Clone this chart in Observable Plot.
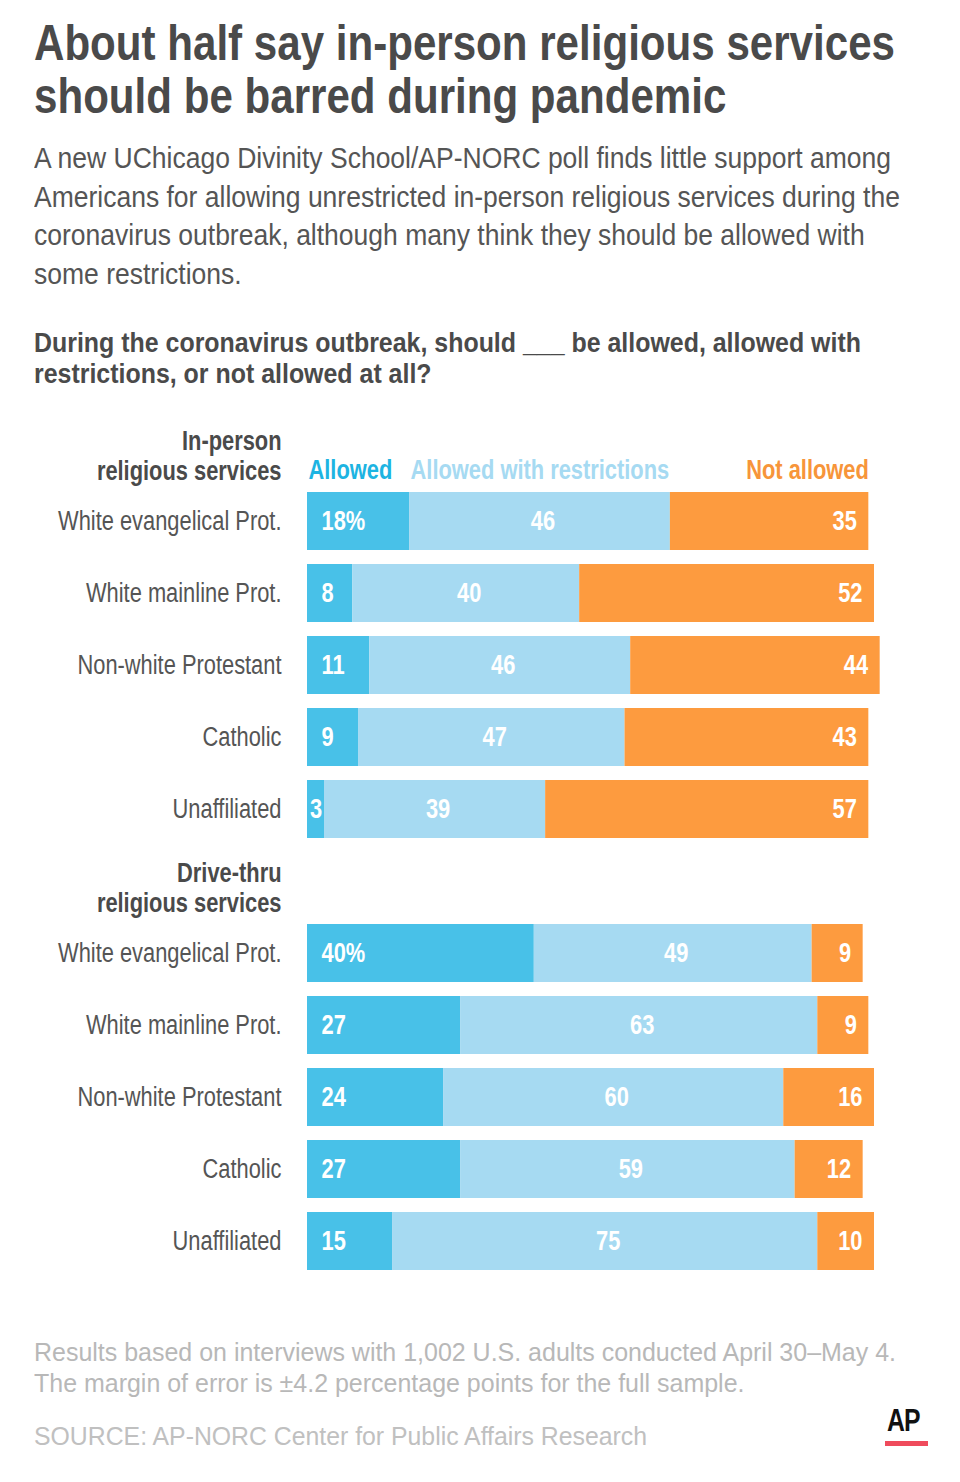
<!DOCTYPE html>
<html><head><meta charset="utf-8">
<script src="https://cdn.jsdelivr.net/npm/d3@7"></script>
<script src="https://cdn.jsdelivr.net/npm/@observablehq/plot@0.6"></script>
<style>
body{margin:0;background:#fff;}
#wrap{position:relative;width:960px;height:1482px;overflow:hidden;background:#fff;
  font-family:"Liberation Sans",Arial,sans-serif;}
.t{position:absolute;left:34px;margin:0;white-space:nowrap;transform-origin:0 0;}
#title{top:17px;font-size:50px;line-height:53px;font-weight:bold;color:#4a4a4a;}
#sub{top:139px;font-size:29px;line-height:38.5px;color:#555;}
#q{top:328px;font-size:27px;line-height:31px;font-weight:bold;color:#4a4a4a;}
#note{top:1337px;font-size:26.5px;line-height:31px;color:#b8b8b8;}
#src{top:1421px;font-size:26.5px;line-height:31px;color:#c0c0c0;}
#chart{position:absolute;left:0;top:400px;}
#ap{position:absolute;left:887px;top:1405px;font-weight:bold;font-size:31px;line-height:31px;color:#111;transform-origin:0 0;transform:scaleX(0.8);letter-spacing:-1px;}
#apbar{position:absolute;left:885px;top:1441px;width:43px;height:5px;background:#ef4b5c;}
</style></head>
<body><div id="wrap">
<div class="t" id="title" data-w="861"><span>About half say in-person religious services</span><br><span>should be barred during pandemic</span></div>
<div class="t" id="sub" data-w="857"><span>A new UChicago Divinity School/AP-NORC poll finds little support among</span><br><span>Americans for allowing unrestricted in-person religious services during the</span><br><span>coronavirus outbreak, although many think they should be allowed with</span><br><span>some restrictions.</span></div>
<div class="t" id="q" data-w="827"><span>During the coronavirus outbreak, should ___ be allowed, allowed with</span><br><span>restrictions, or not allowed at all?</span></div>
<div id="chart"></div>
<div class="t" id="note" data-w="862"><span>Results based on interviews with 1,002 U.S. adults conducted April 30–May 4.</span><br><span>The margin of error is ±4.2 percentage points for the full sample.</span></div>
<div class="t" id="src" data-w="613"><span>SOURCE: AP-NORC Center for Public Affairs Research</span></div>
<div id="ap">AP</div><div id="apbar"></div>
</div>
<script>
const groupTitles = ["In-person\nreligious services", "Drive-thru\nreligious services"];
const groupKeys = ["in", "drive"];
const categories = ["White evangelical Prot.", "White mainline Prot.", "Non-white Protestant", "Catholic", "Unaffiliated"];
const responses = ["Allowed", "Allowed with restrictions", "Not allowed"];
const inPersonAllowed = [18, 8, 11, 9, 3];
const inPersonRestricted = [46, 40, 46, 47, 39];
const inPersonNot = [35, 52, 44, 43, 57];
const driveAllowed = [40, 27, 24, 27, 15];
const driveRestricted = [49, 63, 60, 59, 75];
const driveNot = [9, 9, 16, 12, 10];
const barColors = ["#48c1e8", "#a6daf2", "#fd9b3f"];
const legendColors = ["#1db4e2", "#a6daf2", "#f7953a"];

const seriesByGroup = {
  in: [inPersonAllowed, inPersonRestricted, inPersonNot],
  drive: [driveAllowed, driveRestricted, driveNot]
};

const yDomain = [];
const rows = [];
const headers = [];
const segments = [];
groupKeys.forEach((g, gi) => {
  const hk = "H:" + g;
  yDomain.push(hk);
  headers.push({key: hk, text: groupTitles[gi]});
  categories.forEach((c, ci) => {
    const key = g + "|" + c;
    yDomain.push(key);
    rows.push({key, label: c});
    let acc = 0;
    responses.forEach((r, ri) => {
      const v = seriesByGroup[g][ri][ci];
      segments.push({key, response: r, ri, value: v, x1: acc, x2: acc + v,
        label: (ci === 0 && ri === 0) ? v + "%" : String(v)});
      acc += v;
    });
  });
});

const firstRow = segments.filter(d => d.key === yDomain[1]);
const legendStart = [
  {text: responses[0], x: firstRow[0].x1, fill: legendColors[0]},
  {text: responses[1], x: firstRow[1].x1, fill: legendColors[1]}
];
const legendEnd = [{text: responses[2], x: firstRow[2].x2, fill: legendColors[2]}];

const FONT = '"Liberation Sans",Arial,sans-serif';
const SX = 0.81;
const FS = 27;

const chart = Plot.plot({
  width: 960,
  height: 881,
  marginTop: 19,
  marginBottom: 10,
  marginLeft: 307,
  marginRight: 86,
  style: {fontFamily: FONT, background: "transparent"},
  x: {domain: [0, 100], axis: null},
  y: {domain: yDomain, axis: null, paddingInner: 0.2, paddingOuter: 0},
  color: {domain: responses, range: barColors},
  marks: [
    Plot.barX(segments, {x1: "x1", x2: "x2", y: "key", fill: "response"}),
    Plot.text(segments.filter(d => d.ri === 0 && d.value >= 5), {
      x: "x1", y: "key", text: "label", dx: 14, textAnchor: "start",
      fill: "white", fontWeight: "bold", fontSize: FS
    }),
    Plot.text(segments.filter(d => d.ri === 0 && d.value < 5), {
      x: d => (d.x1 + d.x2) / 2, y: "key", text: "label", textAnchor: "middle",
      fill: "white", fontWeight: "bold", fontSize: FS
    }),
    Plot.text(segments.filter(d => d.ri === 1), {
      x: d => (d.x1 + d.x2) / 2, y: "key", text: "label", dx: 3, textAnchor: "middle",
      fill: "white", fontWeight: "bold", fontSize: FS
    }),
    Plot.text(segments.filter(d => d.ri === 2), {
      x: "x2", y: "key", text: "label", dx: -12, textAnchor: "end",
      fill: "white", fontWeight: "bold", fontSize: FS
    }),
    Plot.text(rows, {
      y: "key", text: "label", frameAnchor: "left", dx: -26, textAnchor: "end",
      fill: "#555", fontSize: FS
    }),
    Plot.text(headers, {
      y: "key", text: "text", frameAnchor: "left", dx: -26, dy: 6, textAnchor: "end",
      fill: "#4a4a4a", fontSize: FS, fontWeight: "bold", lineHeight: 1.11
    }),
    Plot.text(legendStart, {
      x: "x", y: () => yDomain[0], text: "text", fill: "fill", dx: 1, dy: 21,
      textAnchor: "start", fontSize: FS, fontWeight: "bold"
    }),
    Plot.text(legendEnd, {
      x: "x", y: () => yDomain[0], text: "text", fill: "fill", dy: 21,
      textAnchor: "end", fontSize: FS, fontWeight: "bold"
    })
  ]
});
// condense SVG text horizontally around its anchor point
chart.querySelectorAll("text").forEach(t => {
  const ax = t.getAttribute("x");
  let pre = "";
  if (ax !== null && !isNaN(+ax)) { pre += `translate(${+ax},0) `; t.removeAttribute("x"); }
  const tr = t.getAttribute("transform") || "";
  t.setAttribute("transform", `${tr} ${pre}scale(${SX},1)`);
});
document.getElementById("chart").appendChild(chart);

// fit HTML text blocks to the reference line widths with horizontal condensing
document.querySelectorAll(".t[data-w]").forEach(el => {
  const span = el.querySelector("span");
  const w = span.getBoundingClientRect().width;
  el.style.transform = `scaleX(${(+el.dataset.w / w).toFixed(4)})`;
});
</script>
</body></html>
